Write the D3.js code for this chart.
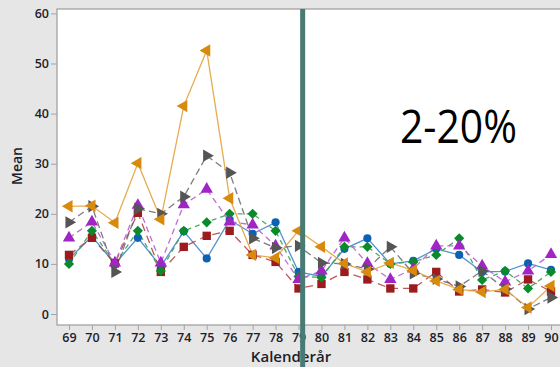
<!DOCTYPE html>
<html>
<head>
<meta charset="utf-8">
<script src="https://cdn.jsdelivr.net/npm/d3@7"></script>
<style>
  html, body { margin: 0; padding: 0; background: #e6e6e6; }
  svg { display: block; }
</style>
</head>
<body>
<svg id="chart" width="560" height="367"></svg>
<script>
// Calendar years (x categories) and y tick labels
const years = [69, 70, 71, 72, 73, 74, 75, 76, 77, 78, 79, 80, 81, 82, 83, 84, 85, 86, 87, 88, 89, 90];
const yTicks = [0, 10, 20, 30, 40, 50, 60];

// Mean per year for each group
const orangeVals = [21.5, 21.6, 18.2, 30.1, 18.9, 41.5, 52.6, 23.1, 11.8, 11.2, 16.6, 13.4, 10.1, 8.4, 10.2, 8.7, 6.6, 4.9, 4.4, 4.9, 1.3, 5.6];
const grayVals   = [18.3, 21.5, 8.4, 21.0, 20.0, 23.4, 31.6, 28.2, 15.1, 13.2, 13.6, 10.2, 10.0, 9.0, 13.4, 8.1, 7.0, 5.5, 8.6, 5.0, 1.0, 3.3];
const purpleVals = [15.2, 18.4, 10.2, 21.7, 10.2, 21.8, 24.9, 18.4, 17.8, 13.6, 6.9, 8.6, 15.2, 10.1, 6.9, 9.0, 13.6, 13.6, 9.6, 6.4, 8.6, 11.9];
const greenVals  = [10.0, 16.6, 10.0, 16.6, 8.6, 16.6, 18.3, 20.0, 20.0, 16.6, 7.5, 7.3, 13.4, 13.4, 10.0, 10.4, 11.8, 15.1, 6.8, 8.6, 5.1, 8.4];
const blueVals   = [11.0, 15.5, 10.0, 15.2, 9.5, 16.5, 11.1, 18.8, 16.0, 18.3, 8.4, 7.5, 13.0, 15.1, 10.0, 10.6, 13.0, 11.8, 8.4, 8.5, 10.1, 8.8];
const redVals    = [11.8, 15.2, 10.1, 20.2, 8.4, 13.4, 15.6, 16.6, 11.8, 10.4, 5.1, 6.0, 8.4, 6.9, 5.1, 5.1, 8.4, 4.5, 4.9, 4.3, 6.9, 4.5];

// Position of the split marker between periods
const splitYear = 79.18;
const annotation = "2-20%";

const series = [
  { vals: blueVals,   color: "#0b62b3", line: "#3f86c9", dash: null,  shape: "circle" },
  { vals: redVals,    color: "#9b1b1e", line: "#b5474a", dash: "8,5", shape: "square" },
  { vals: greenVals,  color: "#0b8a2b", line: "#3aa257", dash: "5,4", shape: "diamond" },
  { vals: purpleVals, color: "#a124c4", line: "#b95bd3", dash: "6,4", shape: "triUp" },
  { vals: grayVals,   color: "#555555", line: "#6e6e6e", dash: "7,4", shape: "triRight" },
  { vals: orangeVals, color: "#d88a0d", line: "#e3a23d", dash: null,  shape: "triLeft" }
];

const svg = d3.select("#chart");
const W = 560, H = 367;
const plot = { left: 57, top: 9, right: 566, bottom: 325 };

const x = d3.scaleLinear().domain([69, 90]).range([69, 551]);
const y = d3.scaleLinear().domain([0, 60]).range([314, 13.4]);

// Plot background
svg.append("rect")
  .attr("x", plot.left).attr("y", plot.top)
  .attr("width", plot.right - plot.left).attr("height", plot.bottom - plot.top)
  .attr("fill", "#ffffff")
  .attr("stroke", "#a3a3a3").attr("stroke-width", 1.3);

// Axes
const font = "'Open Sans', 'Noto Sans', sans-serif";
const yAxis = d3.axisLeft(y).tickValues(yTicks).tickSize(6).tickPadding(2);
const gy = svg.append("g").attr("transform", `translate(${plot.left},0)`).call(yAxis);
const xAxis = d3.axisBottom(x).tickValues(years).tickSize(5).tickPadding(3);
const gx = svg.append("g").attr("transform", `translate(0,${plot.bottom})`).call(xAxis);
[gx, gy].forEach(g => {
  g.select(".domain").remove();
  g.selectAll(".tick line").attr("stroke", "#a3a3a3");
  g.selectAll(".tick text")
    .attr("fill", "#1d1d2b")
    .style("font-family", font)
    .style("font-size", "12.5px")
    .style("font-weight", 600);
});

// Axis titles
svg.append("text")
  .attr("transform", "translate(22,166) rotate(-90)")
  .attr("text-anchor", "middle")
  .style("font-family", font).style("font-size", "14px").style("font-weight", 600)
  .attr("fill", "#1d1d2b")
  .text("Mean");
svg.append("text")
  .attr("x", 291).attr("y", 362)
  .attr("text-anchor", "middle")
  .style("font-family", font).style("font-size", "15px").style("font-weight", 600)
  .attr("fill", "#1d1d2b")
  .text("Kalenderår");

// Lines
const lineGen = d3.line().x((d, i) => x(years[i])).y(d => y(d));
series.forEach(s => {
  svg.append("path")
    .datum(s.vals)
    .attr("d", lineGen)
    .attr("fill", "none")
    .attr("stroke", s.line)
    .attr("stroke-width", 1.3)
    .attr("stroke-dasharray", s.dash)
    .attr("opacity", 0.9);
});

// Markers
const tri = d3.symbol().type(d3.symbolTriangle).size(66)();
const shapes = {
  circle: { path: d3.symbol().type(d3.symbolCircle).size(52)(), rot: 0 },
  square: { path: d3.symbol().type(d3.symbolSquare).size(70)(), rot: 0 },
  diamond: { path: d3.symbol().type(d3.symbolSquare).size(52)(), rot: 45 },
  triUp: { path: tri, rot: 0 },
  triRight: { path: tri, rot: 90 },
  triLeft: { path: tri, rot: -90 }
};
series.forEach(s => {
  const sh = shapes[s.shape];
  svg.append("g").selectAll("path")
    .data(s.vals)
    .join("path")
    .attr("d", sh.path)
    .attr("transform", (d, i) => `translate(${x(years[i])},${y(d)}) rotate(${sh.rot})`)
    .attr("fill", s.color);
});

// Annotation
svg.append("text")
  .attr("x", 400).attr("y", 143)
  .attr("textLength", 117).attr("lengthAdjust", "spacingAndGlyphs")
  .style("font-family", font).style("font-size", "45px")
  .attr("fill", "#000")
  .text(annotation);

// Period split marker
svg.append("rect")
  .attr("x", x(splitYear) - 2.5).attr("y", plot.top)
  .attr("width", 5).attr("height", H - plot.top)
  .attr("fill", "#477b73");
</script>
</body>
</html>
